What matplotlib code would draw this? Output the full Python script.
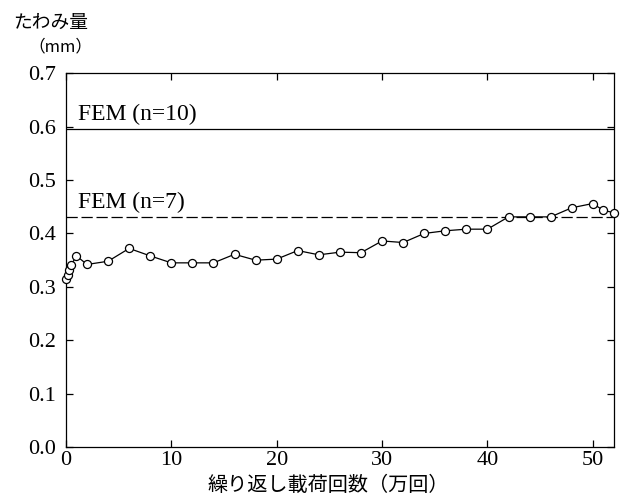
import matplotlib
matplotlib.use("Agg")
import matplotlib.pyplot as plt

# Data
cycles = [0, 0.15, 0.3, 0.5, 1, 2, 4, 6, 8, 10, 12, 14, 16, 18, 20, 22, 24, 26, 28,
          30, 32, 34, 36, 38, 40, 42, 44, 46, 48, 50, 51, 52]
deflection = [0.314, 0.323, 0.331, 0.341, 0.358, 0.342, 0.348, 0.372, 0.358, 0.345,
              0.345, 0.345, 0.361, 0.350, 0.352, 0.368, 0.360, 0.365, 0.364,
              0.386, 0.383, 0.400, 0.405, 0.408, 0.408, 0.431, 0.431, 0.431,
              0.448, 0.456, 0.443, 0.439]
fem_n10 = 0.595
fem_n7 = 0.431
fem_labels = ["FEM (n=10)", "FEM (n=7)"]
x_ticks = [0, 10, 20, 30, 40, 50]
y_ticks = [0.0, 0.1, 0.2, 0.3, 0.4, 0.5, 0.6, 0.7]

serif = ["Liberation Serif", "DejaVu Serif"]
jp = ["Noto Sans CJK JP", "DejaVu Sans"]

fig = plt.figure(figsize=(6.22, 4.97), dpi=100)
ax = fig.add_axes([0.106, 0.100, 0.881, 0.753])

ax.plot(cycles, deflection, color="black", lw=0.9, marker="o", markersize=5.8,
        markerfacecolor="white", markeredgecolor="black", markeredgewidth=0.9,
        zorder=3, clip_on=False)
ax.axhline(fem_n10, color="black", lw=0.9)
ax.axhline(fem_n7, color="black", lw=0.9, ls=(0, (9, 3)))

ax.text(1.1, fem_n10 + 0.007, fem_labels[0], family=serif, fontsize=17,
        ha="left", va="bottom")
ax.text(1.1, fem_n7 + 0.007, fem_labels[1], family=serif, fontsize=17,
        ha="left", va="bottom")

ax.set_xlim(0, 52)
ax.set_ylim(0, 0.7)
ax.set_xticks(x_ticks)
ax.set_yticks(y_ticks)
ax.set_xticklabels([str(v) for v in x_ticks], family=serif, fontsize=16)
ax.set_yticklabels([f"{v:.1f}" for v in y_ticks], family=serif, fontsize=16)
ax.tick_params(direction="in", length=5, width=0.9, top=True, right=True)
ax.tick_params(axis="y", pad=7)
ax.tick_params(axis="x", pad=3)
for s in ax.spines.values():
    s.set_linewidth(0.9)

ax.set_xlabel("繰り返し載荷回数（万回）", family=jp, fontsize=14.5, labelpad=1)
ax.xaxis.set_label_coords(0.478, -0.075)
fig.text(0.021, 0.954, "たわみ量", family=jp, fontsize=13.5, ha="left", va="center")
fig.text(0.045, 0.905, "（mm）", family=jp, fontsize=12, ha="left", va="center")

fig.savefig("out.png", dpi=100)
